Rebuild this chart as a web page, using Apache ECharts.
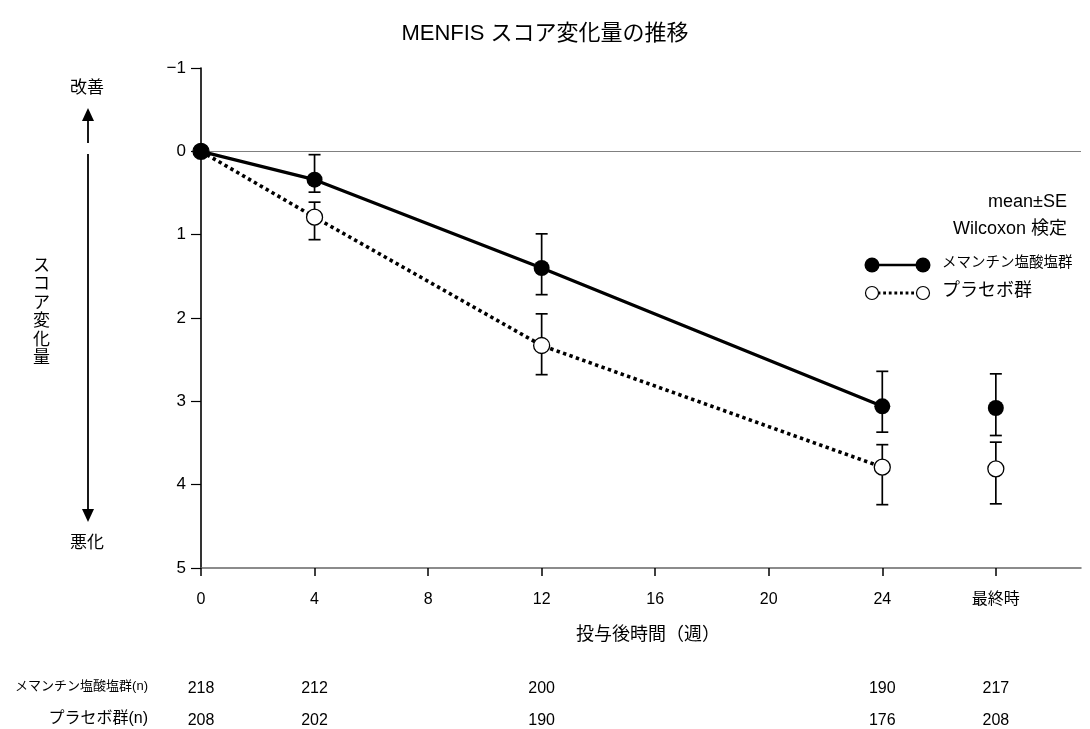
<!DOCTYPE html>
<html><head><meta charset="utf-8">
<script src="https://cdn.jsdelivr.net/npm/echarts@6/dist/echarts.min.js"></script>
<style>html,body{margin:0;padding:0;background:#fff}#c{width:1090px;height:729px}</style>
</head><body><div id="c"></div>
<script>
// ---- data ----
const weeks = [0, 4, 12, 24, 28];           // 28 = 最終時 position
const tickValues = [0, 4, 8, 12, 16, 20, 24, 28];
const tickLabels = ['0', '4', '8', '12', '16', '20', '24', '最終時'];

const memMean = [0, 0.34, 1.40, 3.06, 3.08];
const memErrTop = [null, 0.04, 0.99, 2.64, 2.67];
const memErrBottom = [null, 0.49, 1.72, 3.37, 3.41];

const plaMean = [0, 0.79, 2.33, 3.79, 3.81];
const plaErrTop = [null, 0.61, 1.95, 3.52, 3.49];
const plaErrBottom = [null, 1.06, 2.68, 4.24, 4.23];

const memN = [218, 212, 200, 190, 217];
const plaN = [208, 202, 190, 176, 208];

const memName = 'メマンチン塩酸塩群';
const plaName = 'プラセボ群';

// ---- chart ----
const FONT = "'Liberation Sans', 'Noto Sans CJK JP', sans-serif";
const chart = echarts.init(document.getElementById('c'), null, {renderer: 'canvas'});

const lastLine = 4; // points connected by lines (weeks 0..24)
const memLine = weeks.slice(0, lastLine).map((w, i) => [w, memMean[i]]);
const plaLine = weeks.slice(0, lastLine).map((w, i) => [w, plaMean[i]]);
const memFinal = [[weeks[4], memMean[4]]];
const plaFinal = [[weeks[4], plaMean[4]]];

function errData(top, bottom) {
  const out = [];
  weeks.forEach((w, i) => { if (top[i] != null) out.push([w, top[i], bottom[i]]); });
  return out;
}
function errSeries(top, bottom) {
  return {
    type: 'custom', silent: true, z: 1,
    data: errData(top, bottom),
    encode: {x: 0, y: [1, 2]},
    renderItem(params, api) {
      const x = api.value(0);
      const p1 = api.coord([x, api.value(1)]);
      const p2 = api.coord([x, api.value(2)]);
      const hw = 6;
      const st = {stroke: '#000', lineWidth: 1.7};
      return {type: 'group', children: [
        {type: 'line', shape: {x1: p1[0], y1: p1[1], x2: p2[0], y2: p2[1]}, style: st},
        {type: 'line', shape: {x1: p1[0] - hw, y1: p1[1], x2: p1[0] + hw, y2: p1[1]}, style: st},
        {type: 'line', shape: {x1: p2[0] - hw, y1: p2[1], x2: p2[0] + hw, y2: p2[1]}, style: st}
      ]};
    }
  };
}

function nAxis(values, offset) {
  return {
    type: 'value', min: 0, max: 31, position: 'bottom', offset: offset,
    axisLine: {show: false}, axisTick: {show: false}, splitLine: {show: false},
    axisLabel: {
      customValues: weeks, margin: 0, fontSize: 16, color: '#000', fontFamily: FONT,
      formatter: v => { const i = weeks.indexOf(v); return i >= 0 ? String(values[i]) : ''; }
    }
  };
}

const option = {
  backgroundColor: '#fff',
  animation: false,
  textStyle: {fontFamily: FONT},
  title: {
    text: 'MENFIS スコア変化量の推移', left: 'center', top: 18,
    textStyle: {fontSize: 22, fontWeight: 'normal', color: '#000', fontFamily: FONT}
  },
  grid: {left: 201, right: 9, top: 68, bottom: 161, containLabel: false},
  xAxis: [
    {
      type: 'value', min: 0, max: 31, interval: 4,
      axisLine: {onZero: false, lineStyle: {color: '#666', width: 1.5}},
      axisTick: {customValues: tickValues, length: 8, lineStyle: {color: '#000', width: 1.5}},
      axisLabel: {
        customValues: tickValues, margin: 24, fontSize: 16, color: '#000', fontFamily: FONT,
        formatter: v => { const i = tickValues.indexOf(v); return i >= 0 ? tickLabels[i] : ''; }
      },
      splitLine: {show: false},
      name: '投与後時間（週）', nameLocation: 'middle', nameGap: 58,
      nameTextStyle: {fontSize: 18, color: '#000', fontFamily: FONT, padding: [0, 0, 0, 14]}
    },
    nAxis(memN, 113),
    nAxis(plaN, 145)
  ],
  yAxis: {
    type: 'value', inverse: true, min: -1, max: 5, interval: 1,
    axisLine: {show: true, onZero: false, lineStyle: {color: '#000', width: 1.6}},
    axisTick: {show: true, length: 10, lineStyle: {color: '#000', width: 1.2}},
    axisLabel: {margin: 15, fontSize: 17, color: '#000', fontFamily: FONT,
      formatter: v => String(v).replace('-', '−')},
    splitLine: {show: false}
  },
  series: [
    errSeries(plaErrTop, plaErrBottom),
    errSeries(memErrTop, memErrBottom),
    {
      name: plaName, type: 'line', data: plaLine, z: 3,
      symbol: 'circle', symbolSize: 16,
      lineStyle: {color: '#000', width: 3.6, type: [3.4, 3.4], cap: 'butt'},
      itemStyle: {color: '#fff', borderColor: '#000', borderWidth: 1.3, opacity: 1}
    },
    {
      name: plaName + '_final', type: 'scatter', data: plaFinal, z: 3,
      symbol: 'circle', symbolSize: 16,
      itemStyle: {color: '#fff', borderColor: '#000', borderWidth: 1.3, opacity: 1}
    },
    {
      name: memName, type: 'line', data: memLine, z: 4,
      symbol: 'circle', symbolSize: 16,
      lineStyle: {color: '#000', width: 3.2},
      itemStyle: {color: '#000', borderColor: '#000', borderWidth: 0, opacity: 1},
      markLine: {
        silent: true, symbol: ['none', 'none'], label: {show: false},
        lineStyle: {color: '#808080', type: 'solid', width: 1.2},
        data: [{yAxis: 0}], z: 0
      }
    },
    {
      name: memName + '_final', type: 'scatter', data: memFinal, z: 4,
      symbol: 'circle', symbolSize: 16,
      itemStyle: {color: '#000', opacity: 1}
    }
  ],
  graphic: [
    // left annotation
    {type: 'text', left: 70, top: 80, style: {text: '改善', fontSize: 17, fill: '#000', fontFamily: FONT}},
    {type: 'polygon', shape: {points: [[88, 108], [82, 121], [94, 121]]}, style: {fill: '#000'}},
    {type: 'line', shape: {x1: 88, y1: 120, x2: 88, y2: 143}, style: {stroke: '#000', lineWidth: 1.8}},
    {type: 'line', shape: {x1: 88, y1: 154, x2: 88, y2: 510}, style: {stroke: '#000', lineWidth: 1.8}},
    {type: 'polygon', shape: {points: [[88, 522], [82, 509], [94, 509]]}, style: {fill: '#000'}},
    {type: 'text', left: 70, top: 535, style: {text: '悪化', fontSize: 17, fill: '#000', fontFamily: FONT}},
    {type: 'text', left: 33, top: 257, style: {text: 'ス\nコ\nア\n変\n化\n量', fontSize: 17, lineHeight: 18.5, fill: '#000', fontFamily: FONT}},
    // notes
    {type: 'text', right: 23, top: 193, style: {text: 'mean±SE', fontSize: 18, fill: '#000', fontFamily: FONT, align: 'right'}},
    {type: 'text', right: 23, top: 220, style: {text: 'Wilcoxon 検定', fontSize: 18, fill: '#000', fontFamily: FONT, align: 'right'}},
    // legend
    {type: 'line', shape: {x1: 872, y1: 265, x2: 923, y2: 265}, style: {stroke: '#000', lineWidth: 2.5}},
    {type: 'circle', shape: {cx: 872, cy: 265, r: 7.5}, style: {fill: '#000'}},
    {type: 'circle', shape: {cx: 923, cy: 265, r: 7.5}, style: {fill: '#000'}},
    {type: 'text', left: 942, top: 256, style: {text: memName, fontSize: 14.5, fill: '#000', fontFamily: FONT}},
    {type: 'line', shape: {x1: 872, y1: 293, x2: 923, y2: 293}, style: {stroke: '#000', lineWidth: 3, lineDash: [2.8, 2.8]}},
    {type: 'circle', shape: {cx: 872, cy: 293, r: 6.5}, style: {fill: '#fff', stroke: '#000', lineWidth: 1.2}},
    {type: 'circle', shape: {cx: 923, cy: 293, r: 6.5}, style: {fill: '#fff', stroke: '#000', lineWidth: 1.2}},
    {type: 'text', left: 942, top: 282, style: {text: plaName, fontSize: 18, fill: '#000', fontFamily: FONT}},
    // n-table row labels
    {type: 'text', right: 1090 - 148, top: 680, style: {text: memName + '(n)', fontSize: 13, fill: '#000', fontFamily: FONT, align: 'right'}},
    {type: 'text', right: 1090 - 148, top: 711, style: {text: plaName + '(n)', fontSize: 16, fill: '#000', fontFamily: FONT, align: 'right'}}
  ]
};
chart.setOption(option);
</script>
</body></html>
